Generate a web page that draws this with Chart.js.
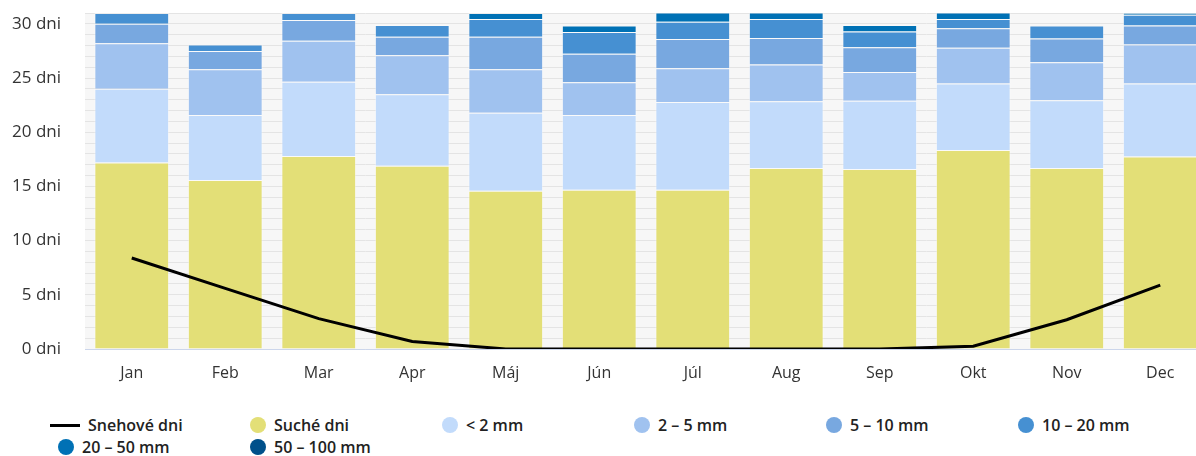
<!DOCTYPE html>
<html>
<head>
<meta charset="utf-8">
<script src="https://cdn.jsdelivr.net/npm/chart.js@4/dist/chart.umd.min.js"></script>
<style>
    html, body { margin: 0; padding: 0; background: #fff; overflow: hidden; }
    #wrap { position: relative; width: 1207px; height: 456px; }
    #chart { position: absolute; left: 0; top: 0; }
    #legend { position: absolute; left: 50px; top: 414px; width: 1160px; font-family: "Open Sans", sans-serif; font-weight: 600; font-size: 16px; color: #222; }
    .item { position: absolute; display: flex; align-items: center; height: 22px; white-space: nowrap; }
    .dot { width: 16px; height: 16px; border-radius: 50%; margin-right: 8px; margin-left: 8px; }
    .line { width: 30px; height: 3px; background: #000; margin-right: 8px; }
</style>
</head>
<body>
<div id="wrap">
    <canvas id="chart"></canvas>
    <div id="legend"></div>
</div>
<script>
var aMonths = ['Jan', 'Feb', 'Mar', 'Apr', 'Máj', 'Jún', 'Júl', 'Aug', 'Sep', 'Okt', 'Nov', 'Dec'];
var aSnow   = [8.4, 5.6, 2.8, 0.7, 0, 0, 0, 0, 0, 0.25, 2.7, 5.9];
var aDry    = [17.2, 15.6, 17.8, 16.9, 14.6, 14.7, 14.7, 16.7, 16.6, 18.35, 16.7, 17.75];
var aLt2    = [6.8, 6.0, 6.85, 6.6, 7.2, 6.9, 8.1, 6.15, 6.3, 6.15, 6.25, 6.75];
var a2to5   = [4.2, 4.2, 3.8, 3.6, 4.0, 3.0, 3.1, 3.4, 2.65, 3.3, 3.5, 3.6];
var a5to10  = [1.8, 1.7, 1.9, 1.7, 3.0, 2.65, 2.7, 2.45, 2.3, 1.8, 2.2, 1.75];
var a10to20 = [1.0, 0.6, 0.65, 1.1, 1.65, 2.0, 1.6, 1.75, 1.45, 0.85, 1.2, 1.0];
var a20to50 = [0, 0, 0, 0, 0.55, 0.6, 0.85, 0.6, 0.6, 0.6, 0, 0.15];
var a50to100 = [0, 0, 0, 0, 0, 0, 0, 0, 0, 0, 0, 0];
var aYTicks = [0, 5, 10, 15, 20, 25, 30];

var oGraph = {
    sFont: '"Open Sans", sans-serif',

    init: function () {
        oGraph.drawChart();
        oGraph.drawLegend();
    },

    barSet: function (sLabel, aData, sColor) {
        return {
            type: 'bar',
            label: sLabel,
            data: aData,
            backgroundColor: sColor,
            borderColor: 'rgba(255, 255, 255, 0.35)',
            borderWidth: 1,
            stack: 'rain',
            order: 1
        };
    },

    drawChart: function () {
        var canvas = document.getElementById('chart');
        canvas.width = 1207;
        canvas.height = 395;
        // grey plot background, painted before grid and bars
        var bgPlugin = {
            id: 'plotBg',
            beforeDraw: function (chart) {
                var a = chart.chartArea;
                chart.ctx.save();
                chart.ctx.fillStyle = '#f7f7f7';
                chart.ctx.fillRect(a.left, a.top, a.right - a.left, a.bottom - a.top);
                chart.ctx.restore();
            }
        };
        new Chart(canvas.getContext('2d'), {
            data: {
                labels: aMonths,
                datasets: [
                    {
                        type: 'line',
                        label: 'Snehové dni',
                        data: aSnow,
                        borderColor: '#000',
                        borderWidth: 3,
                        pointRadius: 0,
                        tension: 0,
                        stack: 'snow',
                        order: 0
                    },
                    oGraph.barSet('Suché dni', aDry, '#e3df77'),
                    oGraph.barSet('< 2 mm', aLt2, '#c2dbfb'),
                    oGraph.barSet('2 – 5 mm', a2to5, '#a0c2ef'),
                    oGraph.barSet('5 – 10 mm', a5to10, '#78a8e0'),
                    oGraph.barSet('10 – 20 mm', a10to20, '#4690d2'),
                    oGraph.barSet('20 – 50 mm', a20to50, '#0071b5'),
                    oGraph.barSet('50 – 100 mm', a50to100, '#00508a')
                ]
            },
            options: {
                responsive: false,
                animation: false,
                layout: { padding: { top: 13, right: 0, left: 0, bottom: 0 } },
                plugins: {
                    legend: { display: false },
                    tooltip: { enabled: false }
                },
                datasets: {
                    bar: { categoryPercentage: 1, barPercentage: 0.8 }
                },
                scales: {
                    x: {
                        stacked: true,
                        grid: { display: false, drawTicks: false },
                        border: { color: '#ccd6eb', width: 1 },
                        ticks: { color: '#333', padding: 15, font: { family: oGraph.sFont, size: 16 } },
                        afterFit: function (s) { s.height = 46; }
                    },
                    y: {
                        stacked: true,
                        min: 0,
                        max: 31,
                        grid: { color: '#e4e4e4', drawTicks: false },
                        border: { display: false },
                        ticks: {
                            stepSize: 1,
                            autoSkip: false,
                            color: '#333',
                            padding: 24,
                            font: { family: oGraph.sFont, size: 17 },
                            callback: function (v) {
                                return aYTicks.indexOf(v) >= 0 ? v + ' dni' : '';
                            }
                        },
                        afterFit: function (s) {
                            s.width = 85;
                            s.paddingTop = 0;
                            s.paddingBottom = 0;
                        }
                    }
                }
            },
            plugins: [bgPlugin]
        });
    },

    drawLegend: function () {
        var aItems = [
            ['Snehové dni', null],
            ['Suché dni', '#e3df77'],
            ['< 2 mm', '#c2dbfb'],
            ['2 – 5 mm', '#a0c2ef'],
            ['5 – 10 mm', '#78a8e0'],
            ['10 – 20 mm', '#4690d2'],
            ['20 – 50 mm', '#0071b5'],
            ['50 – 100 mm', '#00508a']
        ];
        var oLegend = document.getElementById('legend');
        for (var i = 0; i < aItems.length; i++) {
            var div = document.createElement('div');
            div.className = 'item';
            div.style.left = ((i % 6) * 192) + 'px';
            div.style.top = (Math.floor(i / 6) * 22) + 'px';
            var sym = document.createElement('span');
            if (aItems[i][1]) {
                sym.className = 'dot';
                sym.style.background = aItems[i][1];
            } else {
                sym.className = 'line';
            }
            div.appendChild(sym);
            div.appendChild(document.createTextNode(aItems[i][0]));
            oLegend.appendChild(div);
        }
    }
};
oGraph.init();
</script>
</body>
</html>
